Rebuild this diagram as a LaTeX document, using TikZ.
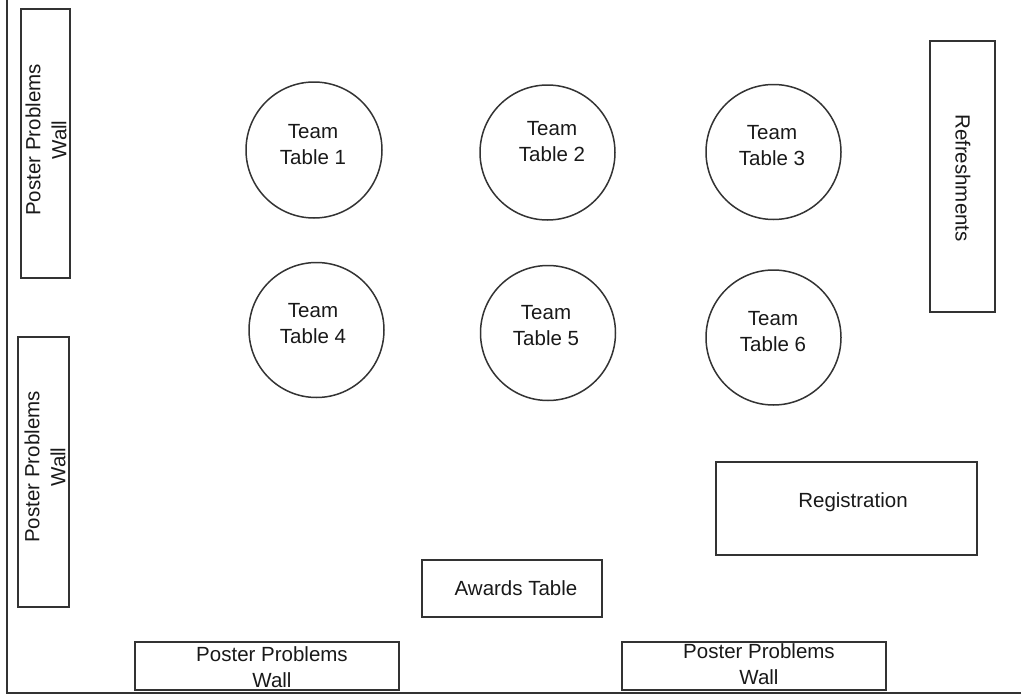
\documentclass[tikz,border=0pt]{standalone}
\usepackage{fontspec}
\setmainfont{Liberation Sans}
\begin{document}
\begin{tikzpicture}[x=1pt,y=-1pt,
  wall/.style={draw=black!80, line width=1.5pt, rectangle, inner sep=0pt},
  tbl/.style={draw=black!80, line width=1.5pt, circle, inner sep=0pt, minimum size=135pt},
  lbl/.style={text=black!90, align=center, font=\fontsize{20.5}{26}\selectfont, inner sep=0pt}]
\useasboundingbox (0,0) rectangle (1021,699);
% room outline
\coordinate (ftop) at (7,0);
\coordinate (fcorner) at (7,693);
\coordinate (fright) at (1021,693);
\draw[black!80, line width=1.5pt] (ftop) -- (fcorner) -- (fright);
% walls and tables (boxes)
\node[wall, minimum width=49pt, minimum height=269pt] (lw1) at (45.5,143.5) {};
\node[wall, minimum width=51pt, minimum height=270pt] (lw2) at (43.5,472) {};
\node[wall, minimum width=65pt, minimum height=271pt] (ref) at (962.5,176.5) {};
\node[wall, minimum width=261pt, minimum height=93pt] (reg) at (846.5,508.5) {};
\node[wall, minimum width=180pt, minimum height=57pt] (awd) at (512,588.5) {};
\node[wall, minimum width=264pt, minimum height=48pt] (bw1) at (267,666) {};
\node[wall, minimum width=264pt, minimum height=48pt] (bw2) at (754,666) {};
% labels of boxes
\node[lbl, rotate=90] (lw1t) at (46,140) {Poster Problems\\Wall};
\node[lbl, rotate=90] (lw2t) at (45,467) {Poster Problems\\Wall};
\node[lbl, rotate=-90] (reft) at (963,178) {Refreshments};
\node[lbl] (regt) at (853,502) {Registration};
\node[lbl] (awdt) at (516,588) {Awards Table};
\node[lbl] (bw1t) at (272,667) {Poster Problems\\Wall};
\node[lbl] (bw2t) at (759,664) {Poster Problems\\Wall};
% team tables
\node[tbl, minimum size=136pt] (c1) at (314,150) {};
\node[tbl] (c2) at (547.5,152.5) {};
\node[tbl] (c3) at (773.5,152) {};
\node[tbl] (c4) at (316.5,330) {};
\node[tbl] (c5) at (548,333) {};
\node[tbl] (c6) at (773.5,337.5) {};
\node[lbl] (c1t) at (313,145) {Team\\Table 1};
\node[lbl] (c2t) at (552,142) {Team\\Table 2};
\node[lbl] (c3t) at (772,146) {Team\\Table 3};
\node[lbl] (c4t) at (313,324) {Team\\Table 4};
\node[lbl] (c5t) at (546,326) {Team\\Table 5};
\node[lbl] (c6t) at (773,332) {Team\\Table 6};
\end{tikzpicture}
\end{document}
